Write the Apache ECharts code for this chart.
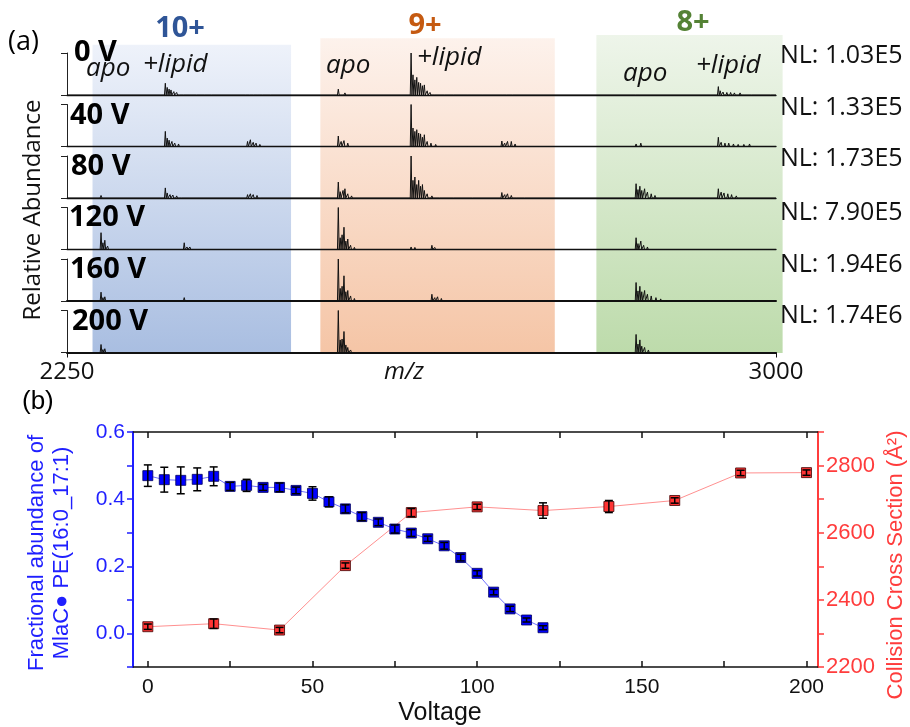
<!DOCTYPE html>
<html>
<head>
<meta charset="utf-8">
<script src="https://cdn.jsdelivr.net/npm/echarts@6/dist/echarts.min.js"></script>
<style>
  html, body { margin: 0; padding: 0; background: #fff; }
  #main { width: 910px; height: 727px; }
</style>
</head>
<body>
<div id="main"></div>
<script>
// ---- panel (a): stacked mass spectra ----
var mzMin = 2250, mzMax = 3000;
var voltLabels = ['0 V', '40 V', '80 V', '120 V', '160 V', '200 V'];
var nlLabels = ['NL: 1.03E5', 'NL: 1.33E5', 'NL: 1.73E5', 'NL: 7.90E5', 'NL: 1.94E6', 'NL: 1.74E6'];

// [m/z, relative intensity]
var spec0V = [
  [2286, 0.03], [2289, 0.02],
  [2354, 0.28], [2356, 0.18], [2358, 0.14], [2360, 0.12], [2363, 0.08], [2366, 0.06], [2370, 0.04], [2374, 0.03], [2380, 0.02], [2388, 0.02], [2396, 0.02], [2404, 0.02],
  [2440, 0.03], [2444, 0.03], [2448, 0.03], [2452, 0.02], [2458, 0.02], [2466, 0.02],
  [2537, 0.14], [2544, 0.05],
  [2614, 1.0], [2616, 0.48], [2618, 0.36], [2620, 0.42], [2622, 0.3], [2624, 0.28], [2626, 0.22], [2628, 0.24], [2631, 0.1], [2634, 0.06], [2640, 0.03], [2650, 0.02], [2660, 0.02], [2675, 0.02], [2690, 0.02],
  [2712, 0.03], [2716, 0.03], [2722, 0.02],
  [2852, 0.03], [2857, 0.02],
  [2939, 0.2], [2941, 0.1], [2944, 0.07], [2948, 0.06], [2952, 0.06], [2956, 0.05], [2962, 0.05], [2968, 0.04], [2975, 0.03], [2985, 0.02], [2995, 0.02]
];
var spec40V = [
  [2286, 0.03],
  [2354, 0.36], [2356, 0.2], [2358, 0.15], [2361, 0.12], [2364, 0.08], [2368, 0.06], [2373, 0.04], [2380, 0.03], [2390, 0.02], [2400, 0.02],
  [2441, 0.12], [2444, 0.16], [2447, 0.1], [2450, 0.08], [2454, 0.05], [2460, 0.03],
  [2537, 0.25], [2540, 0.12], [2543, 0.14], [2547, 0.08], [2551, 0.04],
  [2614, 1.0], [2616, 0.44], [2618, 0.36], [2620, 0.4], [2622, 0.32], [2624, 0.3], [2626, 0.22], [2628, 0.28], [2631, 0.12], [2635, 0.08], [2640, 0.05], [2648, 0.04], [2656, 0.03], [2665, 0.03], [2675, 0.03], [2690, 0.03], [2700, 0.02],
  [2710, 0.13], [2713, 0.08], [2716, 0.12], [2720, 0.12], [2724, 0.06], [2730, 0.04], [2740, 0.03], [2750, 0.02], [2760, 0.02],
  [2852, 0.06], [2857, 0.08], [2862, 0.04], [2868, 0.02],
  [2939, 0.22], [2942, 0.1], [2946, 0.08], [2950, 0.08], [2955, 0.06], [2960, 0.05], [2966, 0.05], [2972, 0.06], [2980, 0.04], [2990, 0.03]
];
var spec80V = [
  [2286, 0.06], [2290, 0.03],
  [2354, 0.24], [2356, 0.12], [2359, 0.08], [2362, 0.07], [2366, 0.05], [2372, 0.04], [2380, 0.03],
  [2441, 0.08], [2444, 0.1], [2447, 0.08], [2451, 0.06], [2456, 0.04],
  [2537, 0.38], [2539, 0.15], [2542, 0.18], [2544, 0.22], [2547, 0.1], [2551, 0.05],
  [2614, 1.0], [2616, 0.42], [2618, 0.5], [2620, 0.32], [2622, 0.42], [2624, 0.28], [2626, 0.32], [2628, 0.18], [2631, 0.1], [2636, 0.05], [2645, 0.03], [2660, 0.03], [2680, 0.02],
  [2710, 0.13], [2713, 0.08], [2716, 0.1], [2720, 0.06], [2726, 0.04], [2735, 0.03],
  [2852, 0.34], [2854, 0.2], [2856, 0.28], [2858, 0.18], [2861, 0.22], [2864, 0.14], [2868, 0.1], [2872, 0.06], [2878, 0.03],
  [2939, 0.22], [2942, 0.14], [2945, 0.12], [2949, 0.1], [2953, 0.08], [2958, 0.05], [2965, 0.03]
];
var spec120V = [
  [2286, 0.4], [2288, 0.16], [2290, 0.22], [2293, 0.08], [2297, 0.04],
  [2374, 0.16], [2377, 0.06], [2380, 0.06], [2384, 0.03],
  [2537, 1.0], [2539, 0.28], [2541, 0.35], [2543, 0.53], [2545, 0.2], [2547, 0.25], [2550, 0.1], [2554, 0.05], [2560, 0.03],
  [2614, 0.06], [2618, 0.05], [2624, 0.04], [2630, 0.03],
  [2636, 0.1], [2639, 0.05], [2643, 0.03],
  [2715, 0.02],
  [2852, 0.28], [2854, 0.14], [2857, 0.2], [2860, 0.1], [2864, 0.06], [2870, 0.03],
  [2939, 0.04], [2944, 0.03], [2950, 0.02]
];
var spec160V = [
  [2286, 0.21], [2288, 0.08], [2290, 0.1], [2294, 0.04],
  [2374, 0.08], [2378, 0.04],
  [2537, 1.0], [2539, 0.3], [2541, 0.35], [2543, 0.6], [2545, 0.22], [2547, 0.25], [2550, 0.12], [2554, 0.06], [2560, 0.03],
  [2636, 0.16], [2639, 0.08], [2642, 0.1], [2646, 0.06], [2650, 0.03],
  [2852, 0.44], [2854, 0.24], [2856, 0.35], [2858, 0.22], [2861, 0.25], [2864, 0.16], [2868, 0.12], [2873, 0.08], [2878, 0.05], [2885, 0.03],
  [2966, 0.02], [2970, 0.02], [2975, 0.02]
];
var spec200V = [
  [2286, 0.19], [2288, 0.07], [2290, 0.09], [2293, 0.03],
  [2375, 0.02],
  [2537, 1.0], [2539, 0.3], [2541, 0.32], [2543, 0.5], [2545, 0.18], [2547, 0.12], [2550, 0.06], [2555, 0.03],
  [2636, 0.03], [2640, 0.02],
  [2852, 0.43], [2854, 0.2], [2856, 0.3], [2858, 0.15], [2861, 0.12], [2865, 0.06], [2870, 0.03]
];
var spectra = [spec0V, spec40V, spec80V, spec120V, spec160V, spec200V];

// charge-state bands: [start m/z, end m/z, top (fraction of panel)]
var bandLabels = ['10+', '9+', '8+'];
var bandStart = [2277, 2518, 2810];
var bandEnd = [2487, 2766, 3007];
var bandTop = [0.969, 0.99, 1.0];

// ---- panel (b) ----
var fracVolt = [0, 5, 10, 15, 20, 25, 30, 35, 40, 45, 50, 55, 60, 65, 70, 75, 80, 85, 90, 95, 100, 105, 110, 115, 120];
var fracVal = [0.470, 0.458, 0.456, 0.459, 0.468, 0.438, 0.441, 0.435, 0.435, 0.426, 0.417, 0.392, 0.371, 0.348, 0.331, 0.311, 0.299, 0.282, 0.261, 0.226, 0.179, 0.123, 0.073, 0.040, 0.017];
var fracErr = [0.032, 0.037, 0.040, 0.034, 0.028, 0.012, 0.018, 0.009, 0.013, 0.010, 0.020, 0.015, 0.012, 0.012, 0.010, 0.012, 0.010, 0.008, 0.010, 0.010, 0.008, 0.008, 0.008, 0.006, 0.006];

var ccsVolt = [0, 20, 40, 60, 80, 100, 120, 140, 160, 180, 200];
var ccsVal = [2320, 2329, 2310, 2502, 2660, 2677, 2666, 2678, 2696, 2778, 2779];
var ccsErr = [8, 14, 8, 8, 12, 8, 23, 18, 8, 8, 8];

var voltTicks = [0, 25, 50, 75, 100, 125, 150, 175, 200];
var voltTickLabels = [0, 50, 100, 150, 200];
var fracTicks = [-0.1, 0, 0.1, 0.2, 0.3, 0.4, 0.5, 0.6];
var fracTickLabels = [0, 0.2, 0.4, 0.6];
var ccsTicks = [2200, 2300, 2400, 2500, 2600, 2700, 2800, 2900];
var ccsTickLabels = [2200, 2400, 2600, 2800];

var BLUE = '#1f1fff';
var RED = '#ff3c3c';
var FA = '"Open Sans", "Liberation Sans", sans-serif';
var FB = '"Liberation Sans", Arial, sans-serif';

function stick(peaks) {
  var out = [[mzMin, 0]];
  peaks.forEach(function (p) {
    out.push([p[0] - 0.9, 0], [p[0], p[1]], [p[0] + 0.9, 0]);
  });
  out.push([mzMax, 0]);
  return out;
}
function plain(v) { return String(v); }

var chart = echarts.init(document.getElementById('main'), null, { renderer: 'canvas' });

var grids = [], xAxes = [], yAxes = [], series = [];
var rowTop = 53, rowStep = 51.5, rowH = 42;

spectra.forEach(function (sp, i) {
  grids.push({ left: 67, width: 709, top: rowTop + i * rowStep, height: rowH });
  var last = i === spectra.length - 1;
  xAxes.push({
    gridIndex: i, type: 'value', min: mzMin, max: mzMax, interval: 750,
    axisLine: { lineStyle: { color: '#111', width: i >= 4 ? 2 : 1.3 } },
    axisTick: { show: last, length: 5, lineStyle: { color: '#111' } },
    axisLabel: { show: last, formatter: plain, fontFamily: FA, fontSize: 24, color: '#111', margin: 8 },
    splitLine: { show: false }
  });
  yAxes.push({
    gridIndex: i, type: 'value', min: 0, max: 1, interval: 1,
    axisLine: { show: true, lineStyle: { color: '#222', width: 1 } },
    axisTick: { show: true, length: 6, lineStyle: { color: '#222' } },
    axisLabel: { show: false },
    splitLine: { show: false }
  });
  series.push({
    type: 'line', xAxisIndex: i, yAxisIndex: i,
    data: stick(sp), showSymbol: false, symbol: 'none', z: 3,
    lineStyle: { color: '#111', width: 1 }
  });
});

// band grid (index 6)
grids.push({ left: 67, width: 709, top: 35, height: 318 });
xAxes.push({ gridIndex: 6, type: 'value', min: mzMin, max: mzMax, show: false });
yAxes.push({ gridIndex: 6, type: 'value', min: 0, max: 1, show: false });
var bandGrad = [
  ['#eef2fa', '#a9bee1'],
  ['#fdf2ec', '#f5c5a6'],
  ['#eef5ea', '#bddbab']
];
series.push({
  type: 'custom', xAxisIndex: 6, yAxisIndex: 6, z: 0, silent: true,
  data: bandStart.map(function (s, k) { return [s, bandEnd[k], bandTop[k]]; }),
  encode: { x: [0, 1], y: 2 },
  renderItem: function (params, api) {
    var a = api.coord([api.value(0), api.value(2)]);
    var b = api.coord([api.value(1), 0]);
    var g = bandGrad[params.dataIndex];
    return {
      type: 'rect',
      shape: { x: a[0], y: a[1], width: b[0] - a[0], height: b[1] - a[1] },
      style: { fill: new echarts.graphic.LinearGradient(0, 0, 0, 1, [
        { offset: 0, color: g[0] }, { offset: 1, color: g[1] }
      ]) }
    };
  }
});

// panel (b) grid (index 7)
grids.push({ left: 133, right: 92, top: 432, bottom: 60 });
xAxes.push({
  gridIndex: 7, type: 'value', min: -4.5, max: 203.5, position: 'bottom',
  axisLine: { onZero: false, lineStyle: { color: '#111', width: 1.5 } },
  axisTick: { inside: true, length: 6, customValues: voltTicks, lineStyle: { color: '#111', width: 1.5 } },
  axisLabel: { customValues: voltTickLabels, fontFamily: FB, fontSize: 21, color: '#111', margin: 10 },
  splitLine: { show: false }
});
xAxes.push({
  gridIndex: 7, type: 'value', min: -4.5, max: 203.5, position: 'top',
  axisLine: { onZero: false, lineStyle: { color: '#111', width: 1.5 } },
  axisTick: { inside: true, length: 6, customValues: voltTicks, lineStyle: { color: '#111', width: 1.5 } },
  axisLabel: { show: false },
  splitLine: { show: false }
});
yAxes.push({
  gridIndex: 7, type: 'value', min: -0.1, max: 0.6, position: 'left',
  axisLine: { show: true, onZero: false, lineStyle: { color: BLUE, width: 2 } },
  axisTick: { show: true, length: 6, customValues: fracTicks, lineStyle: { color: BLUE, width: 1.5 } },
  axisLabel: { customValues: fracTickLabels, formatter: function (v) { return v.toFixed(1); },
    fontFamily: FB, fontSize: 21, color: BLUE, margin: 8 },
  splitLine: { show: false }
});
yAxes.push({
  gridIndex: 7, type: 'value', min: 2200, max: 2900, position: 'right',
  axisLine: { show: true, onZero: false, lineStyle: { color: RED, width: 2 } },
  axisTick: { show: true, length: 6, customValues: ccsTicks, lineStyle: { color: RED, width: 1.5 } },
  axisLabel: { customValues: ccsTickLabels, formatter: plain, fontFamily: FB, fontSize: 22, color: RED, margin: 8 },
  splitLine: { show: false }
});

function errBar(params, api) {
  var x = api.value(0), y = api.value(1), e = api.value(2);
  var lo = api.coord([x, y - e]), hi = api.coord([x, y + e]);
  var w = 4, st = { stroke: '#000', lineWidth: 1.5 };
  return {
    type: 'group', children: [
      { type: 'line', shape: { x1: lo[0], y1: lo[1], x2: hi[0], y2: hi[1] }, style: st },
      { type: 'line', shape: { x1: lo[0] - w, y1: lo[1], x2: lo[0] + w, y2: lo[1] }, style: st },
      { type: 'line', shape: { x1: hi[0] - w, y1: hi[1], x2: hi[0] + w, y2: hi[1] }, style: st }
    ]
  };
}

series.push({
  type: 'line', xAxisIndex: 7, yAxisIndex: 7, z: 4,
  data: fracVolt.map(function (v, k) { return [v, fracVal[k]]; }),
  symbol: 'rect', symbolSize: 10, showSymbol: true,
  itemStyle: { color: '#0000ff', borderColor: '#00005a', borderWidth: 0.8 },
  lineStyle: { color: '#7070ff', width: 1 }
});
series.push({
  type: 'custom', xAxisIndex: 7, yAxisIndex: 7, z: 6, renderItem: errBar,
  encode: { x: 0, y: 1 },
  data: fracVolt.map(function (v, k) { return [v, fracVal[k], fracErr[k]]; })
});
series.push({
  type: 'line', xAxisIndex: 7, yAxisIndex: 8, z: 4,
  data: ccsVolt.map(function (v, k) { return [v, ccsVal[k]]; }),
  symbol: 'rect', symbolSize: 10, showSymbol: true,
  itemStyle: { color: '#ff3333', borderColor: '#400000', borderWidth: 0.8 },
  lineStyle: { color: '#ff9090', width: 1 }
});
series.push({
  type: 'custom', xAxisIndex: 7, yAxisIndex: 8, z: 6, renderItem: errBar,
  encode: { x: 0, y: 1 },
  data: ccsVolt.map(function (v, k) { return [v, ccsVal[k], ccsErr[k]]; })
});

// text labels
function txt(x, y, text, font, fill, align, rot) {
  return {
    type: 'text', x: x, y: y, rotation: rot || 0, z: 10,
    style: { text: text, font: font, fill: fill || '#000', textAlign: align || 'left', textVerticalAlign: 'middle' }
  };
}
var voltY = [53, 116, 167, 218, 270, 322];
var voltX = [74, 70, 71, 69, 70, 72];
var nlY = [56, 108, 159, 213, 265, 316];
var bandColors = ['#2f5597', '#c55a11', '#548235'];
var bandLabelX = [180, 425, 693];
var bandLabelY = [29, 26, 23];

var graphics = [];
graphics.push(txt(8, 42, '(a)', '27px ' + FA, '#000'));
graphics.push(txt(22, 402, '(b)', '26px ' + FB, '#000'));
voltLabels.forEach(function (t, i) {
  graphics.push(txt(voltX[i], voltY[i], t, 'bold 29px ' + FA, '#000'));
  graphics.push(txt(780, nlY[i], nlLabels[i], '25px ' + FA, '#111'));
});
bandLabels.forEach(function (t, i) {
  graphics.push(txt(bandLabelX[i], bandLabelY[i], t, 'bold 29px ' + FA, bandColors[i], 'center'));
});
graphics.push(txt(86, 69, 'apo', 'italic 26px ' + FA, '#111'));
graphics.push(txt(143, 65, '+lipid', 'italic 26px ' + FA, '#111'));
graphics.push(txt(326, 66, 'apo', 'italic 26px ' + FA, '#111'));
graphics.push(txt(417, 58, '+lipid', 'italic 26px ' + FA, '#111'));
graphics.push(txt(623, 74, 'apo', 'italic 26px ' + FA, '#111'));
graphics.push(txt(696, 66, '+lipid', 'italic 26px ' + FA, '#111'));
graphics.push(txt(404, 372, 'm/z', 'italic 24px ' + FA, '#111', 'center'));
graphics.push(txt(33, 210, 'Relative Abundance', '24px ' + FA, '#111', 'center', Math.PI / 2));
graphics.push(txt(440, 713, 'Voltage', '25px ' + FB, '#111', 'center'));
graphics.push(txt(37, 553, 'Fractional abundance of', '22px ' + FB, BLUE, 'center', Math.PI / 2));
graphics.push(txt(62, 553, 'MlaC\u25CF PE(16:0_17:1)', '22px ' + FB, BLUE, 'center', Math.PI / 2));
graphics.push(txt(896, 565, 'Collision Cross Section (\u00C5\u00B2)', '22px ' + FB, RED, 'center', Math.PI / 2));

chart.setOption({
  animation: false,
  backgroundColor: '#fff',
  grid: grids,
  xAxis: xAxes,
  yAxis: yAxes,
  series: series,
  graphic: graphics
});
</script>
</body>
</html>
